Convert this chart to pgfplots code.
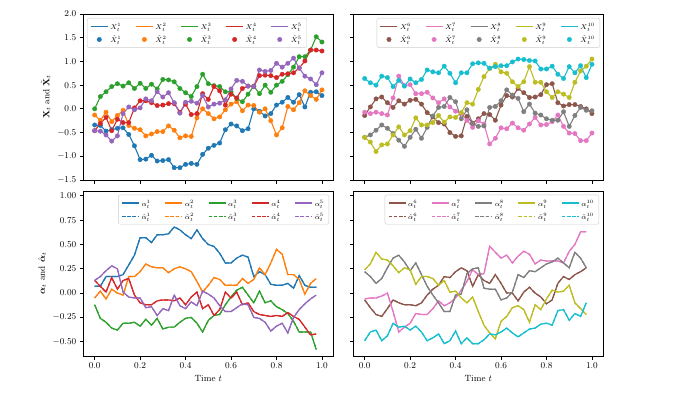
\documentclass[border=0pt]{standalone}
\usepackage{amsmath}
\usepackage{pgfplots}
\usepackage{pgfplotstable}
\pgfplotsset{compat=1.18}

\definecolor{c1}{HTML}{1F77B4}
\definecolor{c2}{HTML}{FF7F0E}
\definecolor{c3}{HTML}{2CA02C}
\definecolor{c4}{HTML}{D62728}
\definecolor{c5}{HTML}{9467BD}
\definecolor{c6}{HTML}{8C564B}
\definecolor{c7}{HTML}{E377C2}
\definecolor{c8}{HTML}{7F7F7F}
\definecolor{c9}{HTML}{BCBD22}
\definecolor{c10}{HTML}{17BECF}

\newcommand{\lstrut}{\rule[-3.3pt]{0pt}{11pt}}

\pgfplotstableread{
t x1 x2 x3 x4 x5 x6 x7 x8 x9 x10
0.000 -0.34 -0.13 0.00 -0.46 -0.46 -0.14 -0.07 -0.60 -0.60 0.64
0.025 -0.35 -0.24 0.26 -0.31 -0.47 0.04 -0.10 -0.55 -0.70 0.55
0.050 -0.47 -0.07 0.36 -0.18 -0.55 0.21 -0.07 -0.45 -0.90 0.50
0.075 -0.44 -0.27 0.47 -0.46 -0.68 0.25 -0.10 -0.34 -0.76 0.69
0.100 -0.41 -0.14 0.53 -0.22 -0.57 0.13 -0.13 -0.41 -0.74 0.66
0.125 -0.40 -0.03 0.48 -0.29 -0.10 0.03 0.23 -0.52 -0.55 0.47
0.150 -0.54 -0.35 0.55 -0.29 0.04 0.17 0.69 -0.66 -0.38 0.60
0.175 -0.78 -0.41 0.43 0.02 -0.02 0.10 0.49 -0.79 -0.55 0.48
0.200 -1.07 -0.44 0.54 0.17 0.02 0.18 0.51 -0.60 -0.46 0.63
0.225 -1.06 -0.57 0.43 0.17 0.21 0.20 0.32 -0.43 -0.19 0.55
0.250 -0.98 -0.53 0.52 0.13 0.17 0.10 0.32 -0.62 -0.34 0.62
0.275 -1.10 -0.48 0.42 0.07 0.36 -0.08 0.35 -0.39 -0.34 0.82
0.300 -1.09 -0.48 0.62 0.08 0.25 -0.17 0.23 -0.15 -0.29 0.78
0.325 -1.07 -0.36 0.61 0.11 0.34 -0.29 0.13 0.03 -0.14 0.76
0.350 -1.24 -0.45 0.57 0.11 0.13 -0.32 0.21 0.05 -0.28 0.90
0.375 -1.24 -0.61 0.43 -0.07 -0.09 -0.50 0.04 0.24 -0.17 0.75
0.400 -1.17 -0.57 0.34 0.10 0.14 -0.58 -0.05 0.15 -0.18 0.55
0.425 -1.15 -0.58 0.26 -0.12 0.16 -0.57 -0.10 -0.21 -0.08 0.76
0.450 -1.17 -0.19 0.47 -0.10 0.12 -0.16 -0.24 -0.02 0.13 0.76
0.475 -0.96 0.00 0.73 0.32 0.28 -0.30 -0.39 -0.31 0.10 0.95
0.500 -0.83 -0.10 0.53 0.20 0.04 -0.21 -0.25 -0.37 0.41 0.97
0.525 -0.77 -0.21 0.49 0.47 0.10 -0.10 -0.32 -0.36 0.68 0.96
0.550 -0.72 -0.17 0.47 0.38 0.12 -0.12 -0.74 0.03 0.85 0.86
0.575 -0.44 -0.02 0.36 0.08 0.19 -0.24 -0.62 0.05 0.94 0.89
0.600 -0.32 0.10 0.36 0.31 0.42 0.08 -0.40 0.17 0.78 0.91
0.625 -0.36 0.15 0.22 0.23 0.60 0.28 -0.42 0.40 0.75 0.91
0.650 -0.46 -0.04 0.15 0.43 0.58 0.25 -0.30 0.29 0.57 0.99
0.675 -0.42 0.08 0.31 0.48 0.48 0.43 -0.40 0.22 0.47 1.05
0.700 0.00 0.07 0.48 0.47 0.47 0.34 -0.45 -0.06 0.57 1.04
0.725 -0.05 -0.07 0.32 0.70 0.82 0.24 -0.32 0.10 0.89 1.02
0.750 -0.15 0.00 0.50 0.71 0.79 0.25 -0.18 -0.09 0.56 1.01
0.775 -0.10 -0.25 0.35 0.70 0.81 0.30 -0.34 -0.13 0.56 0.84
0.800 0.08 -0.55 0.50 0.66 0.96 0.51 -0.33 -0.21 0.36 0.84
0.825 0.14 -0.40 0.58 0.73 0.88 0.53 -0.27 -0.24 0.24 0.90
0.850 0.24 0.05 0.72 0.74 0.96 0.13 -0.13 -0.24 0.36 0.73
0.875 0.14 -0.02 0.88 0.76 1.07 0.06 -0.37 -0.06 0.31 0.64
0.900 0.30 0.13 1.10 0.86 0.86 0.09 -0.51 -0.37 0.24 0.89
0.925 0.04 0.38 1.10 1.01 0.69 0.09 -0.52 -0.14 0.56 0.76
0.950 0.35 0.28 1.24 1.24 0.63 0.05 -0.67 0.03 0.80 0.91
0.975 0.36 0.20 1.52 1.24 0.51 0.00 -0.67 -0.03 0.90 0.66
1.000 0.28 0.40 1.41 1.22 0.76 -0.10 -0.51 -0.04 1.05 0.94
}\topdata

\pgfplotstableread{
t a1 a2 a3 a4 a5 a6 a7 a8 a9 a10
0.000 0.07 -0.05 -0.12 0.13 0.13 -0.07 -0.06 0.22 0.24 -0.49
0.025 0.07 0.02 -0.26 0.07 0.17 -0.15 -0.05 0.17 0.30 -0.40
0.050 0.17 -0.06 -0.30 0.01 0.23 -0.22 -0.05 0.10 0.42 -0.38
0.075 0.17 0.04 -0.36 0.16 0.28 -0.24 -0.03 0.15 0.35 -0.49
0.100 0.17 0.00 -0.38 0.04 0.25 -0.16 0.00 0.26 0.34 -0.44
0.125 0.19 -0.02 -0.31 0.13 0.01 -0.07 -0.19 0.36 0.28 -0.31
0.150 0.29 0.17 -0.31 0.15 -0.04 -0.10 -0.40 0.39 0.21 -0.35
0.175 0.39 0.17 -0.30 -0.02 -0.05 -0.12 -0.35 0.32 0.26 -0.34
0.200 0.57 0.22 -0.34 -0.10 -0.05 -0.12 -0.31 0.23 0.24 -0.38
0.225 0.57 0.30 -0.27 -0.12 -0.15 -0.13 -0.21 0.31 0.09 -0.34
0.250 0.52 0.27 -0.33 -0.12 -0.14 -0.10 -0.22 0.19 0.17 -0.40
0.275 0.60 0.26 -0.26 -0.08 -0.23 -0.02 -0.22 0.07 0.17 -0.49
0.300 0.60 0.26 -0.37 -0.07 -0.16 0.04 -0.16 -0.02 0.15 -0.46
0.325 0.61 0.21 -0.35 -0.07 -0.18 0.08 -0.08 -0.10 0.08 -0.42
0.350 0.68 0.25 -0.35 -0.08 -0.02 0.17 -0.13 -0.19 0.13 -0.52
0.375 0.65 0.27 -0.30 -0.05 -0.13 0.16 -0.10 -0.19 0.01 -0.49
0.400 0.60 0.25 -0.26 -0.12 -0.16 0.22 -0.05 -0.02 0.02 -0.39
0.425 0.56 0.22 -0.25 -0.04 -0.09 0.26 0.03 -0.01 -0.05 -0.52
0.450 0.65 0.12 -0.31 0.01 -0.13 0.23 0.12 0.20 -0.10 -0.46
0.475 0.56 0.01 -0.40 -0.16 0.02 0.07 0.24 0.25 -0.04 -0.52
0.500 0.50 0.08 -0.28 -0.12 -0.01 0.19 0.19 0.26 -0.19 -0.52
0.525 0.48 0.16 -0.23 -0.23 -0.05 0.13 0.20 0.05 -0.33 -0.48
0.550 0.41 0.14 -0.22 -0.17 -0.13 0.10 0.48 0.04 -0.41 -0.42
0.575 0.31 0.08 -0.12 0.01 -0.19 0.19 0.42 0.04 -0.47 -0.43
0.600 0.31 0.08 -0.04 -0.05 -0.19 0.10 0.36 -0.07 -0.29 -0.40
0.625 0.36 0.08 0.03 0.01 -0.15 0.00 0.39 -0.05 -0.24 -0.36
0.650 0.39 0.15 0.06 -0.12 -0.11 0.00 0.31 0.01 -0.15 -0.41
0.675 0.37 0.10 -0.02 -0.10 -0.12 -0.08 0.38 0.19 -0.13 -0.45
0.700 0.17 0.14 -0.10 -0.19 -0.25 0.01 0.43 0.16 -0.17 -0.41
0.725 0.22 0.26 0.02 -0.22 -0.26 0.06 0.40 0.23 -0.30 -0.37
0.750 0.19 0.19 -0.10 -0.23 -0.30 0.00 0.30 0.22 -0.12 -0.36
0.775 0.09 0.31 -0.08 -0.24 -0.39 -0.04 0.34 0.26 -0.17 -0.32
0.800 0.08 0.45 -0.14 -0.23 -0.34 -0.11 0.33 0.30 -0.06 -0.31
0.825 0.08 0.40 -0.17 -0.24 -0.31 -0.07 0.33 0.32 0.03 -0.33
0.850 0.10 0.19 -0.21 -0.20 -0.41 0.10 0.33 0.36 0.01 -0.18
0.875 0.05 0.19 -0.29 -0.24 -0.25 0.17 0.31 0.31 0.02 -0.17
0.900 0.18 0.14 -0.40 -0.27 -0.17 0.14 0.43 0.26 0.08 -0.28
0.925 0.08 -0.01 -0.40 -0.35 -0.11 0.19 0.50 0.42 -0.10 -0.21
0.950 0.06 0.10 -0.40 -0.43 -0.06 0.22 0.63 0.36 -0.16 -0.24
0.975 0.06 0.15 -0.58 -0.42 -0.02 0.26 0.63 0.26 -0.22 -0.10
}\botdata

\pgfplotsset{
  panel/.style={
    scale only axis, width=250pt, anchor=south west,
    xmin=-0.05, xmax=1.05, xtick={0,0.2,0.4,0.6,0.8,1},
    tick pos=left, tick align=outside, major tick length=3.5pt,
    axis line style={line width=0.9pt},
    every tick/.style={black, line width=0.8pt},
    tick label style={font=\fontsize{9}{10}\selectfont, black},
    label style={font=\fontsize{9}{10}\selectfont},
    xticklabel style={/pgf/number format/.cd, fixed, fixed zerofill, precision=1},
    legend columns=5, legend cell align=left,
    legend image code/.code={\draw[mark repeat=2,mark phase=2,##1] plot coordinates {(0pt,0pt)(8.5pt,0pt)(17pt,0pt)};},
    legend style={font=\fontsize{7.5}{8}\selectfont, draw=black!20, rounded corners=2pt,
      fill=white, inner xsep=3pt, inner ysep=1.5pt,
      /tikz/every even column/.append style={column sep=12pt}},
  },
  toprow/.style={height=166pt, ymin=-1.5, ymax=2, ytick={-1.5,-1,-0.5,0,0.5,1,1.5,2},
    yticklabel style={/pgf/number format/.cd, fixed, fixed zerofill, precision=1},
    xticklabels={}},
  botrow/.style={height=165pt, ymin=-0.647, ymax=1.05, ytick={-0.5,-0.25,0,0.25,0.5,0.75,1},
    yticklabel style={/pgf/number format/.cd, fixed, fixed zerofill, precision=2},
    xlabel={Time $t$}},
}

\begin{document}
\begin{tikzpicture}
\path[use as bounding box] (0,0) rectangle (692pt,397pt);

% top-left
\begin{axis}[panel, toprow, at={(83.3pt,217pt)},
  ylabel={$\mathbf{X}_t$ and $\hat{\mathbf{X}}_t$},
  legend style={at={(0.015,0.976)}, anchor=north west}]
\pgfplotsinvokeforeach{1,...,5}{
  \addplot[c#1, line width=1.1pt, forget plot] table[x=t, y=x#1]{\topdata};
  \addplot[c#1, only marks, mark=*, mark size=2.2pt, forget plot] table[x=t, y=x#1]{\topdata};
}
\pgfplotsinvokeforeach{1,...,5}{
  \addlegendimage{c#1, line width=1.1pt}
  \addlegendentry{\lstrut$X_t^{#1}$}
}
\pgfplotsinvokeforeach{1,...,5}{
  \addlegendimage{c#1, only marks, mark=*, mark size=2.2pt}
  \addlegendentry{\lstrut$\hat{X}_t^{#1}$}
}
\end{axis}

% top-right
\begin{axis}[panel, toprow, at={(353.3pt,217pt)}, yticklabels={},
  legend style={at={(0.987,0.976)}, anchor=north east}]
\pgfplotsinvokeforeach{6,...,10}{
  \addplot[c#1, line width=1.1pt, forget plot] table[x=t, y=x#1]{\topdata};
  \addplot[c#1, only marks, mark=*, mark size=2.2pt, forget plot] table[x=t, y=x#1]{\topdata};
}
\pgfplotsinvokeforeach{6,...,10}{
  \addlegendimage{c#1, line width=1.1pt}
  \addlegendentry{\lstrut$X_t^{#1}$}
}
\pgfplotsinvokeforeach{6,...,10}{
  \addlegendimage{c#1, only marks, mark=*, mark size=2.2pt}
  \addlegendentry{\lstrut$\hat{X}_t^{#1}$}
}
\end{axis}

% bottom-left
\begin{axis}[panel, botrow, at={(83.3pt,41pt)},
  ylabel={$\boldsymbol{\alpha}_t$ and $\hat{\boldsymbol{\alpha}}_t$},
  legend style={at={(0.983,0.978)}, anchor=north east}]
\pgfplotsinvokeforeach{1,...,5}{
  \addplot[c#1, line width=1.2pt, forget plot] table[x=t, y=a#1]{\botdata};
  \addplot[c#1, line width=1.2pt, dash pattern=on 4pt off 1.7pt, forget plot] table[x=t, y=a#1]{\botdata};
}
\pgfplotsinvokeforeach{1,...,5}{
  \addlegendimage{c#1, line width=1.2pt}
  \addlegendentry{\lstrut$\alpha_t^{#1}$}
}
\pgfplotsinvokeforeach{1,...,5}{
  \addlegendimage{c#1, line width=1.1pt, dash pattern=on 3.6pt off 1.6pt}
  \addlegendentry{\lstrut$\hat{\alpha}_t^{#1}$}
}
\end{axis}

% bottom-right
\begin{axis}[panel, botrow, at={(353.3pt,41pt)}, yticklabels={},
  legend style={at={(0.983,0.978)}, anchor=north east}]
\pgfplotsinvokeforeach{6,...,10}{
  \addplot[c#1, line width=1.2pt, forget plot] table[x=t, y=a#1]{\botdata};
  \addplot[c#1, line width=1.2pt, dash pattern=on 4pt off 1.7pt, forget plot] table[x=t, y=a#1]{\botdata};
}
\pgfplotsinvokeforeach{6,...,10}{
  \addlegendimage{c#1, line width=1.2pt}
  \addlegendentry{\lstrut$\alpha_t^{#1}$}
}
\pgfplotsinvokeforeach{6,...,10}{
  \addlegendimage{c#1, line width=1.1pt, dash pattern=on 3.6pt off 1.6pt}
  \addlegendentry{\lstrut$\hat{\alpha}_t^{#1}$}
}
\end{axis}
\end{tikzpicture}
\end{document}
